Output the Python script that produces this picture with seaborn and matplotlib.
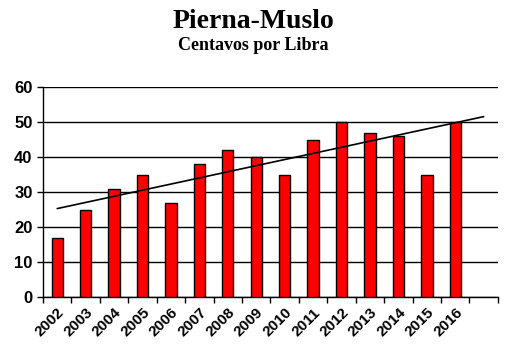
import numpy as np
import pandas as pd
import matplotlib
matplotlib.use("Agg")
import matplotlib.pyplot as plt
import seaborn as sns
from matplotlib.ticker import FixedLocator

# Data
years = ["2002", "2003", "2004", "2005", "2006", "2007", "2008", "2009",
         "2010", "2011", "2012", "2013", "2014", "2015", "2016"]
cents = [17, 25, 31, 35, 27, 38, 42, 40, 35, 45, 50, 47, 46, 35, 50]
order = years + [""]  # empty slot after 2016 where the trend line ends

df = pd.DataFrame({"year": years, "cents": cents})

sns.set_theme(style="white")
plt.rcParams["font.family"] = ["Liberation Sans", "DejaVu Sans"]
plt.rcParams["text.color"] = "black"
plt.rcParams["xtick.color"] = "black"
plt.rcParams["ytick.color"] = "black"

fig = plt.figure(figsize=(5.06, 3.55), dpi=100)
ax = fig.add_axes([0.085, 0.163, 0.899, 0.592])

sns.barplot(data=df, x="year", y="cents", order=order, color="#ff0000",
            saturation=1, width=0.4, edgecolor="black", linewidth=1, ax=ax,
            zorder=3)

# linear trend, extended one period forward
xs = np.arange(len(cents))
slope, icpt = np.polyfit(xs, cents, 1)
xt = np.array([0, len(cents)])
ax.plot(xt, icpt + slope * xt, color="black", linewidth=1.2, zorder=4)

ax.set_xlim(-0.5, len(order) - 0.5)
ax.set_ylim(0, 60)
ax.set_yticks(range(0, 61, 10))
ax.yaxis.grid(True, color="black", linewidth=1)
ax.set_axisbelow(True)
ax.set_xlabel("")
ax.set_ylabel("")

for s in ["top", "right"]:
    ax.spines[s].set_visible(False)
for s in ["left", "bottom"]:
    ax.spines[s].set_color("black")
    ax.spines[s].set_linewidth(1)

# tick marks at category boundaries, labels at centres
ax.xaxis.set_major_locator(FixedLocator(np.arange(-0.5, len(order), 1.0)))
ax.xaxis.set_minor_locator(FixedLocator(np.arange(len(years))))
ax.set_xticklabels([])
ax.set_xticklabels(years, minor=True, rotation=45, ha="right",
                   rotation_mode="anchor", fontsize=11, fontweight="bold",
                   color="black")
ax.tick_params(axis="x", which="major", length=4, width=1, color="black",
               bottom=True, direction="out")
ax.tick_params(axis="x", which="minor", length=0, pad=6)
ax.tick_params(axis="y", length=4, width=1, color="black", left=True,
               direction="out", labelsize=12, labelcolor="black")
for lab in ax.get_yticklabels():
    lab.set_fontweight("bold")

fig.text(0.5, 0.975, "Pierna-Muslo", ha="center", va="top", color="black",
         family=["Liberation Serif", "DejaVu Serif"], fontsize=20,
         fontweight="bold")
fig.text(0.5, 0.895, "Centavos por Libra", ha="center", va="top",
         color="black", family=["Liberation Serif", "DejaVu Serif"],
         fontsize=13, fontweight="bold")

fig.savefig("out.png", dpi=100)
